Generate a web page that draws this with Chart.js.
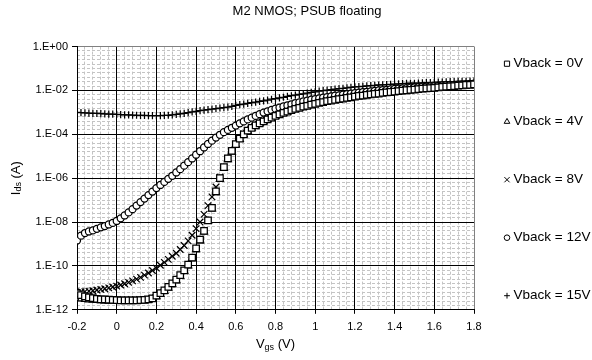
<!DOCTYPE html>
<html>
<head>
<meta charset="utf-8">
<script src="https://cdn.jsdelivr.net/npm/chart.js"></script>
<style>
  html, body { margin: 0; padding: 0; background: #fff; }
  #chart { display: block; }
</style>
</head>
<body>
<canvas id="chart" width="592" height="360"></canvas>
<script>
// gate sweep, Vgs (V)
const vgs = [
  -0.2, -0.18, -0.16, -0.14, -0.12, -0.1, -0.08, -0.06, -0.04, -0.02,
  0, 0.02, 0.04, 0.06, 0.08, 0.1, 0.12, 0.14, 0.16, 0.18,
  0.2, 0.22, 0.24, 0.26, 0.28, 0.3, 0.32, 0.34, 0.36, 0.38,
  0.4, 0.42, 0.44, 0.46, 0.48, 0.5, 0.52, 0.54, 0.56, 0.58,
  0.6, 0.62, 0.64, 0.66, 0.68, 0.7, 0.72, 0.74, 0.76, 0.78,
  0.8, 0.82, 0.84, 0.86, 0.88, 0.9, 0.92, 0.94, 0.96, 0.98,
  1, 1.02, 1.04, 1.06, 1.08, 1.1, 1.12, 1.14, 1.16, 1.18,
  1.2, 1.22, 1.24, 1.26, 1.28, 1.3, 1.32, 1.34, 1.36, 1.38,
  1.4, 1.42, 1.44, 1.46, 1.48, 1.5, 1.52, 1.54, 1.56, 1.58,
  1.6, 1.62, 1.64, 1.66, 1.68, 1.7, 1.72, 1.74, 1.76, 1.78,
  1.8
];

// log10 of Ids (A)
const logIds0V = [
  -11.25, -11.33, -11.39, -11.43, -11.47, -11.5, -11.52, -11.53, -11.54, -11.55,
  -11.56, -11.57, -11.57, -11.57, -11.57, -11.57, -11.56, -11.55, -11.53, -11.48,
  -11.35, -11.24, -11.11, -10.96, -10.8, -10.62, -10.42, -10.2, -9.94, -9.62,
  -9.2, -8.8, -8.4, -7.92, -7.35, -6.6, -6.0, -5.5, -5.1, -4.75,
  -4.45, -4.2, -4.0, -3.83, -3.7, -3.59, -3.5, -3.41, -3.32, -3.24,
  -3.16, -3.09, -3.02, -2.96, -2.9, -2.84, -2.79, -2.74, -2.7, -2.65,
  -2.61, -2.57, -2.53, -2.49, -2.46, -2.43, -2.4, -2.37, -2.34, -2.31,
  -2.28, -2.25, -2.23, -2.2, -2.18, -2.16, -2.14, -2.11, -2.09, -2.07,
  -2.05, -2.03, -2.01, -1.99, -1.97, -1.96, -1.94, -1.92, -1.91, -1.89,
  -1.88, -1.86, -1.84, -1.83, -1.81, -1.8, -1.78, -1.77, -1.75, -1.74,
  -1.72
];
const logIds4V = [
  -11.48, -11.5, -11.52, -11.54, -11.56, -11.57, -11.58, -11.59, -11.6, -11.6,
  -11.6, -11.6, -11.6, -11.6, -11.6, -11.6, -11.59, -11.58, -11.56, -11.52,
  -11.4, -11.29, -11.16, -11.01, -10.85, -10.67, -10.47, -10.25, -9.99, -9.67,
  -9.25, -8.85, -8.45, -7.97, -7.4, -6.65, -6.05, -5.55, -5.15, -4.8,
  -4.48, -4.23, -4.02, -3.85, -3.72, -3.61, -3.51, -3.42, -3.33, -3.25,
  -3.17, -3.1, -3.03, -2.97, -2.91, -2.85, -2.8, -2.75, -2.71, -2.66,
  -2.62, -2.58, -2.54, -2.5, -2.47, -2.44, -2.41, -2.38, -2.35, -2.32,
  -2.29, -2.26, -2.24, -2.21, -2.19, -2.17, -2.15, -2.12, -2.1, -2.08,
  -2.06, -2.04, -2.02, -2.0, -1.98, -1.97, -1.95, -1.93, -1.92, -1.9,
  -1.89, -1.87, -1.85, -1.84, -1.82, -1.81, -1.79, -1.78, -1.76, -1.75,
  -1.73
];
const logIds8V = [
  -11.2, -11.18, -11.17, -11.15, -11.13, -11.1, -11.07, -11.04, -11.0, -10.96,
  -10.92, -10.87, -10.81, -10.75, -10.68, -10.6, -10.52, -10.42, -10.32, -10.21,
  -10.1, -9.97, -9.84, -9.7, -9.56, -9.42, -9.25, -9.07, -8.86, -8.6,
  -8.3, -8.0, -7.65, -7.25, -6.85, -6.4, -5.95, -5.5, -5.1, -4.75,
  -4.45, -4.19, -3.98, -3.82, -3.69, -3.58, -3.49, -3.4, -3.31, -3.23,
  -3.15, -3.08, -3.01, -2.95, -2.89, -2.83, -2.78, -2.73, -2.69, -2.64,
  -2.6, -2.56, -2.52, -2.48, -2.45, -2.42, -2.39, -2.36, -2.33, -2.3,
  -2.27, -2.24, -2.22, -2.19, -2.17, -2.15, -2.13, -2.1, -2.08, -2.06,
  -2.04, -2.02, -2.0, -1.98, -1.96, -1.95, -1.93, -1.91, -1.9, -1.88,
  -1.87, -1.85, -1.83, -1.82, -1.8, -1.79, -1.77, -1.76, -1.75, -1.74,
  -1.73
];
const logIds12V = [
  -8.84, -8.62, -8.5, -8.43, -8.38, -8.31, -8.24, -8.18, -8.11, -8.04,
  -7.95, -7.83, -7.7, -7.56, -7.41, -7.25, -7.09, -6.93, -6.77, -6.61,
  -6.45, -6.31, -6.17, -6.03, -5.89, -5.74, -5.59, -5.43, -5.27, -5.1,
  -4.93, -4.77, -4.6, -4.44, -4.29, -4.15, -4.02, -3.9, -3.8, -3.7,
  -3.6, -3.5, -3.41, -3.32, -3.24, -3.16, -3.08, -3.01, -2.95, -2.89,
  -2.83, -2.78, -2.73, -2.68, -2.63, -2.58, -2.54, -2.5, -2.46, -2.42,
  -2.39, -2.36, -2.33, -2.3, -2.27, -2.24, -2.22, -2.19, -2.17, -2.14,
  -2.12, -2.1, -2.08, -2.06, -2.04, -2.02, -2.0, -1.98, -1.97, -1.95,
  -1.93, -1.92, -1.9, -1.89, -1.87, -1.86, -1.85, -1.83, -1.82, -1.81,
  -1.8, -1.79, -1.77, -1.76, -1.75, -1.74, -1.73, -1.72, -1.71, -1.7,
  -1.69
];
const logIds15V = [
  -3.0, -3.01, -3.02, -3.03, -3.04, -3.05, -3.06, -3.07, -3.08, -3.08,
  -3.09, -3.1, -3.11, -3.11, -3.12, -3.13, -3.14, -3.14, -3.15, -3.15,
  -3.15, -3.15, -3.14, -3.13, -3.11, -3.09, -3.07, -3.04, -3.01, -2.98,
  -2.95, -2.92, -2.9, -2.87, -2.85, -2.83, -2.8, -2.78, -2.76, -2.73,
  -2.68, -2.65, -2.62, -2.59, -2.56, -2.53, -2.5, -2.47, -2.44, -2.4,
  -2.37, -2.34, -2.31, -2.27, -2.24, -2.21, -2.18, -2.15, -2.12, -2.09,
  -2.06, -2.03, -2.01, -1.98, -1.96, -1.94, -1.92, -1.9, -1.88, -1.86,
  -1.84, -1.82, -1.81, -1.79, -1.78, -1.77, -1.75, -1.74, -1.73, -1.72,
  -1.71, -1.7, -1.69, -1.68, -1.67, -1.67, -1.66, -1.65, -1.64, -1.64,
  -1.63, -1.62, -1.62, -1.61, -1.6, -1.6, -1.59, -1.58, -1.58, -1.57,
  -1.57
];

const seriesLabels = ["Vback = 0V", "Vback = 4V", "Vback = 8V", "Vback = 12V", "Vback = 15V"];
const seriesLogs = [logIds0V, logIds4V, logIds8V, logIds12V, logIds15V];
// labelled decades on the current axis
const yTickExponents = [0, -2, -4, -6, -8, -10, -12];
const minorLinesPerDecade = 5;

const FONT = "'Liberation Sans', Arial, sans-serif";
Chart.defaults.font.family = FONT;
Chart.defaults.color = "#000";

const markers = [
  { style: "rect", radius: 4.6 },
  { style: "triangle", radius: 4.1 },
  { style: "crossRot", radius: 4.6 },
  { style: "circle", radius: 3.5 },
  { style: "cross", radius: 3.6 },
];

const toPoints = (logs) => vgs.map((v, i) => ({ x: v, y: Math.pow(10, logs[i]) }));

const datasets = seriesLabels.map((label, i) => ({
  label,
  data: toPoints(seriesLogs[i]),
  pointStyle: markers[i].style,
  pointRadius: markers[i].radius,
  pointBorderWidth: 1.25,
  borderColor: "#000",
  backgroundColor: "#fff",
  showLine: false,
}));

// text with subscripts, parts = [[text, isSub], ...]
const drawSubText = (ctx, parts, cx, cy) => {
  const sized = parts.map(([text, sub]) => {
    ctx.font = (sub ? "9px " : "13px ") + FONT;
    return { text, sub, w: ctx.measureText(text).width };
  });
  const total = sized.reduce((s, p) => s + p.w, 0);
  let x = cx - total / 2;
  sized.forEach((p) => {
    ctx.font = (p.sub ? "9px " : "13px ") + FONT;
    ctx.fillText(p.text, x, cy + (p.sub ? 3 : 0));
    x += p.w;
  });
};

const axisTitles = {
  id: "axisTitles",
  afterDraw(chart) {
    const { ctx, chartArea, scales } = chart;
    ctx.save();
    ctx.fillStyle = "#000";
    ctx.textBaseline = "middle";
    ctx.textAlign = "left";
    drawSubText(ctx, [["V", false], ["gs", true], [" (V)", false]],
      (chartArea.left + chartArea.right) / 2, chartArea.bottom + 35);
    ctx.translate(scales.y.left - 6, (chartArea.top + chartArea.bottom) / 2);
    ctx.rotate(-Math.PI / 2);
    drawSubText(ctx, [["I", false], ["ds", true], [" (A)", false]], 0, 0);
    ctx.restore();
  },
};

// legend on the right, one row per series, evenly spread over the plot height
const sideLegend = {
  id: "sideLegend",
  afterDraw(chart) {
    const { ctx, chartArea } = chart;
    const sets = chart.data.datasets;
    const x = chartArea.right + 33;
    const mid = (chartArea.top + chartArea.bottom) / 2 + 1.5;
    const pitch = 58;
    ctx.save();
    ctx.font = "13.5px " + FONT;
    ctx.textBaseline = "middle";
    ctx.textAlign = "left";
    sets.forEach((ds, i) => {
      const y = mid + (i - (sets.length - 1) / 2) * pitch;
      ctx.fillStyle = "#fff";
      ctx.strokeStyle = "#000";
      ctx.lineWidth = 1;
      Chart.helpers.drawPoint(ctx, {
        pointStyle: ds.pointStyle,
        radius: ds.pointRadius * 0.8,
        borderWidth: 1,
        rotation: 0,
      }, x, y);
      ctx.fillStyle = "#000";
      ctx.fillText(ds.label, x + 6.5, y);
    });
    ctx.restore();
  },
};

new Chart(document.getElementById("chart"), {
  type: "scatter",
  data: { datasets },
  options: {
    responsive: false,
    animation: false,
    events: [],
    layout: { padding: { left: 22, right: 0, top: 0, bottom: 19 } },
    plugins: {
      legend: { display: false },
      tooltip: { enabled: false },
      title: {
        display: true,
        text: "M2 NMOS; PSUB floating",
        color: "#000",
        font: { size: 13, weight: "normal" },
        padding: { top: 4, bottom: 27 },
      },
    },
    scales: {
      x: {
        type: "linear",
        position: "bottom",
        min: -0.2,
        max: 1.8,
        ticks: {
          stepSize: 0.2,
          font: { size: 11 },
          padding: 7,
          maxRotation: 0,
          autoSkip: false,
          callback: (v) => String(Math.round(v * 10) / 10),
        },
        grid: {
          color: (c) => (c.tick && Math.abs(c.tick.value - 1.8) < 1e-9 ? "#808080" : "#000"),
          tickColor: "#000",
          tickLength: 4,
        },
        border: { color: "#000" },
      },
      y: {
        type: "logarithmic",
        position: "left",
        min: 1e-12,
        max: 1,
        afterBuildTicks: (s) => {
          s.ticks = yTickExponents.map((e) => ({ value: Math.pow(10, e), major: true }));
        },
        afterFit: (s) => { s.width = 55; },
        ticks: {
          font: { size: 11 },
          padding: 4,
          autoSkip: false,
          callback: (v) => {
            const e = Math.round(Math.log10(v));
            return "1.E" + (e < 0 ? "-" : "+") + String(Math.abs(e)).padStart(2, "0");
          },
        },
        grid: {
          color: (c) => (c.tick && c.tick.value === 1 ? "#808080" : "#000"),
          tickColor: "#000",
          tickLength: 5,
        },
        border: { color: "#000" },
      },
      xMinor: {
        type: "linear",
        position: "bottom",
        min: -0.2,
        max: 1.8,
        ticks: { display: false, stepSize: 0.04, autoSkip: false },
        grid: { color: "#c4c4c4", drawTicks: false, z: -2 },
        border: { display: false, dash: [3, 2] },
      },
      yMinor: {
        type: "logarithmic",
        position: "right",
        min: 1e-12,
        max: 1,
        afterBuildTicks: (s) => {
          const lo = Math.min(...yTickExponents);
          const hi = Math.max(...yTickExponents);
          const ticks = [];
          for (let k = lo * minorLinesPerDecade; k <= hi * minorLinesPerDecade; k++) {
            ticks.push({ value: Math.pow(10, k / minorLinesPerDecade) });
          }
          s.ticks = ticks;
        },
        afterFit: (s) => { s.width = 118; },
        ticks: { display: false, autoSkip: false },
        grid: { color: "#c4c4c4", drawTicks: false, z: -2 },
        border: { display: false, dash: [3, 2] },
      },
    },
  },
  plugins: [axisTitles, sideLegend],
});
</script>
</body>
</html>
